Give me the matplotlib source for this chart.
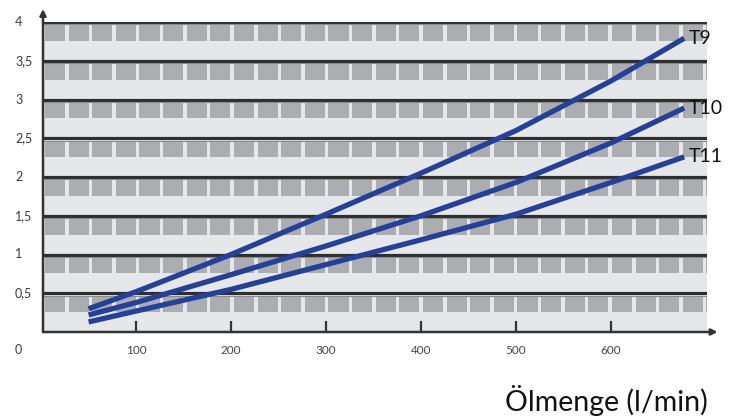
#!/usr/bin/env python3

import matplotlib.pyplot as plt
import matplotlib.transforms as mtransforms
from matplotlib.patches import Rectangle
import numpy as np

plt.rcParams['font.family'] = ['Lato', 'DejaVu Sans']

# flow (l/min) against value
flow = [50, 100, 200, 300, 400, 500, 600, 677]
t9 = [0.30, 0.52, 1.00, 1.52, 2.05, 2.60, 3.24, 3.79]
t10 = [0.22, 0.38, 0.74, 1.11, 1.50, 1.93, 2.44, 2.89]
t11 = [0.13, 0.27, 0.55, 0.87, 1.19, 1.52, 1.93, 2.26]
series_names = ['T9', 'T10', 'T11']

x_ticks = [100, 200, 300, 400, 500, 600]
y_ticks = [0, 0.5, 1, 1.5, 2, 2.5, 3, 3.5, 4]
y_labels = ['0', '0,5', '1', '1,5', '2', '2,5', '3', '3,5', '4']

line_col = '#24409b'
band_col = '#e6e7e8'
square_col = '#acadb0'
rule_col = '#2e2e2e'

fig = plt.figure(figsize=(7.31, 4.18), dpi=100)
ax = fig.add_axes([43 / 731, 1 - 332 / 418, 664 / 731, 310 / 418])
x_min, x_max = 2, 701
ax.set_xlim(x_min, x_max)
ax.set_ylim(0, 4)
ax.set_facecolor(band_col)

# banded background: dark rule, row of grey squares, light strip
sq_period = 24.87
sq_width = 21.2
sq_start = 4.0
for top in y_ticks[1:]:
    x0 = sq_start
    while x0 < x_max:
        w = min(sq_width, x_max - x0)
        ax.add_patch(Rectangle((x0, top - 0.245), w, 0.21, facecolor=square_col,
                               edgecolor='none', zorder=1))
        x0 += sq_period
    ax.axhline(top, color=rule_col, lw=2.3, zorder=2)
    ax.axhline(top - 0.03, color='#8c8c8c', lw=0.8, zorder=2)

for name, vals in zip(series_names, [t9, t10, t11]):
    ax.plot(flow, vals, color=line_col, lw=3.8, solid_capstyle='butt', zorder=5)
    ax.annotate(name, xy=(flow[-1], vals[-1]), xytext=(3, 0), textcoords='offset points',
                va='center', ha='left', fontsize=14, color='#111111', annotation_clip=False)

# axes, arrows and tick marks
for side in ['top', 'right', 'left', 'bottom']:
    ax.spines[side].set_visible(False)
ax.annotate('', xy=(1.016, 0), xytext=(0, 0), xycoords='axes fraction',
            arrowprops=dict(arrowstyle='-|>', color='#333333', lw=1.8,
                            mutation_scale=9, shrinkA=0, shrinkB=0), zorder=6)
ax.annotate('', xy=(0, 1.042), xytext=(0, 0), xycoords='axes fraction',
            arrowprops=dict(arrowstyle='-|>', color='#333333', lw=1.8,
                            mutation_scale=9, shrinkA=0, shrinkB=0), zorder=6)

ax.set_xticks(x_ticks)
ax.set_xticklabels([str(v) for v in x_ticks], fontsize=8.5, color='#444444')
ax.tick_params(axis='x', direction='in', length=8, width=1.6, color='#333333', pad=9)
ax.set_yticks([])

trans = mtransforms.blended_transform_factory(fig.transFigure, ax.transData)
for v, lab in zip(y_ticks, y_labels):
    yy = v if v > 0 else -0.23
    ax.text(15 / 731, yy, lab, transform=trans, ha='left', va='center',
            fontsize=9, color='#3a3a3a', clip_on=False)

fig.text(708 / 731, 1 - 400 / 418, 'Ölmenge (l/min)', ha='right', va='center',
         fontsize=20.5, color='#111111')

fig.savefig('out.png', dpi=100)
plt.close(fig)
